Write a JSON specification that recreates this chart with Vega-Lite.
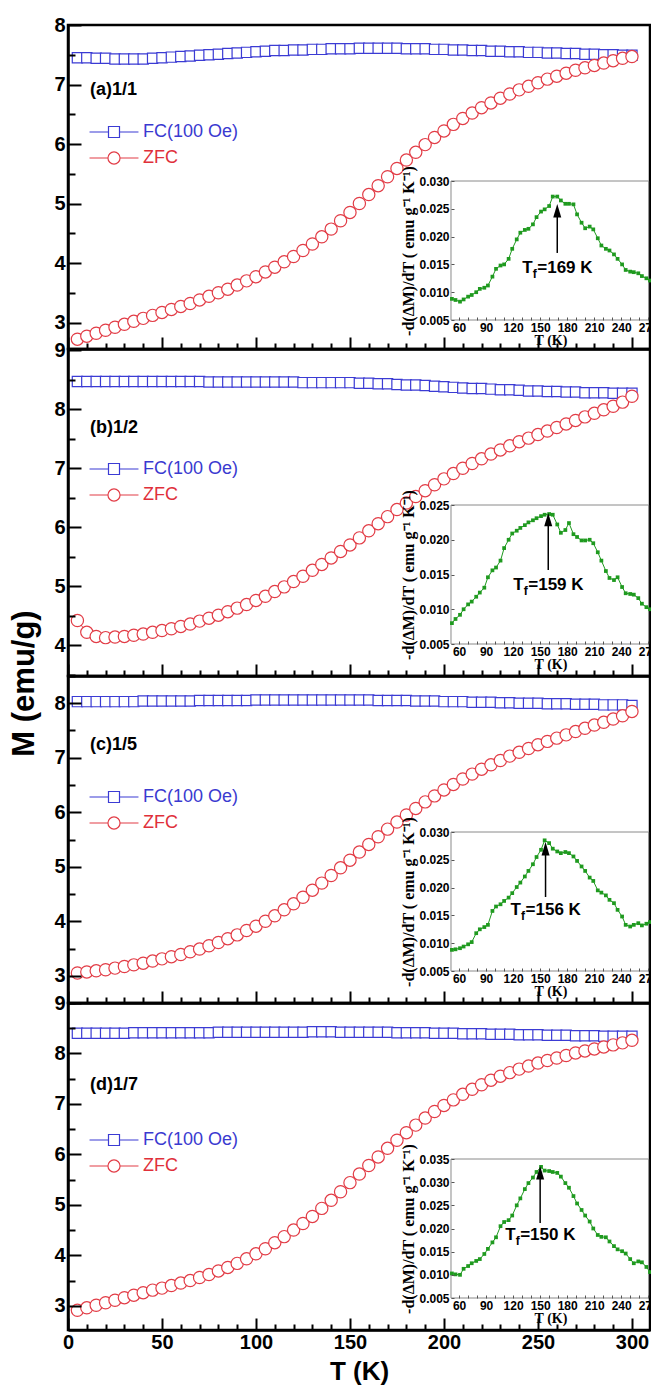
{
"$schema": "https://vega.github.io/schema/vega-lite/v6.json",
"padding": {"left": 6, "top": 13, "right": 0, "bottom": 0},
"background": "white",
"spacing": 0,
"bounds": "flush",
"resolve": {"scale": {"color": "independent"}, "legend": {"color": "independent"}},
"config": {"view": {"stroke": "black", "strokeWidth": 2.5}, "font": "Liberation Sans", "axis": {"grid": false}},
"datasets": {
"mainA": [
{"T":5,"FC(100 Oe)":7.45,"ZFC":2.72},{"T":10,"FC(100 Oe)":7.45,"ZFC":2.77},{"T":15,"FC(100 Oe)":7.44,"ZFC":2.82},{"T":20,"FC(100 Oe)":7.44,"ZFC":2.87},{"T":25,"FC(100 Oe)":7.43,"ZFC":2.92},{"T":30,"FC(100 Oe)":7.43,"ZFC":2.97},{"T":35,"FC(100 Oe)":7.43,"ZFC":3.02},{"T":40,"FC(100 Oe)":7.43,"ZFC":3.07},{"T":45,"FC(100 Oe)":7.44,"ZFC":3.12},{"T":50,"FC(100 Oe)":7.45,"ZFC":3.17},
{"T":55,"FC(100 Oe)":7.46,"ZFC":3.22},{"T":60,"FC(100 Oe)":7.47,"ZFC":3.27},{"T":65,"FC(100 Oe)":7.48,"ZFC":3.32},{"T":70,"FC(100 Oe)":7.49,"ZFC":3.38},{"T":75,"FC(100 Oe)":7.50,"ZFC":3.44},{"T":80,"FC(100 Oe)":7.51,"ZFC":3.50},{"T":85,"FC(100 Oe)":7.52,"ZFC":3.56},{"T":90,"FC(100 Oe)":7.53,"ZFC":3.63},{"T":95,"FC(100 Oe)":7.54,"ZFC":3.70},{"T":100,"FC(100 Oe)":7.55,"ZFC":3.77},
{"T":105,"FC(100 Oe)":7.56,"ZFC":3.85},{"T":110,"FC(100 Oe)":7.57,"ZFC":3.93},{"T":115,"FC(100 Oe)":7.57,"ZFC":4.02},{"T":120,"FC(100 Oe)":7.58,"ZFC":4.11},{"T":125,"FC(100 Oe)":7.58,"ZFC":4.21},{"T":130,"FC(100 Oe)":7.59,"ZFC":4.32},{"T":135,"FC(100 Oe)":7.59,"ZFC":4.44},{"T":140,"FC(100 Oe)":7.60,"ZFC":4.57},{"T":145,"FC(100 Oe)":7.60,"ZFC":4.71},{"T":150,"FC(100 Oe)":7.60,"ZFC":4.85},
{"T":155,"FC(100 Oe)":7.61,"ZFC":5.00},{"T":160,"FC(100 Oe)":7.61,"ZFC":5.15},{"T":165,"FC(100 Oe)":7.61,"ZFC":5.30},{"T":170,"FC(100 Oe)":7.61,"ZFC":5.45},{"T":175,"FC(100 Oe)":7.61,"ZFC":5.59},{"T":180,"FC(100 Oe)":7.60,"ZFC":5.73},{"T":185,"FC(100 Oe)":7.60,"ZFC":5.86},{"T":190,"FC(100 Oe)":7.60,"ZFC":5.99},{"T":195,"FC(100 Oe)":7.59,"ZFC":6.11},{"T":200,"FC(100 Oe)":7.59,"ZFC":6.22},
{"T":205,"FC(100 Oe)":7.58,"ZFC":6.33},{"T":210,"FC(100 Oe)":7.58,"ZFC":6.43},{"T":215,"FC(100 Oe)":7.57,"ZFC":6.52},{"T":220,"FC(100 Oe)":7.57,"ZFC":6.61},{"T":225,"FC(100 Oe)":7.56,"ZFC":6.69},{"T":230,"FC(100 Oe)":7.56,"ZFC":6.77},{"T":235,"FC(100 Oe)":7.55,"ZFC":6.84},{"T":240,"FC(100 Oe)":7.55,"ZFC":6.91},{"T":245,"FC(100 Oe)":7.54,"ZFC":6.97},{"T":250,"FC(100 Oe)":7.54,"ZFC":7.03},
{"T":255,"FC(100 Oe)":7.53,"ZFC":7.09},{"T":260,"FC(100 Oe)":7.53,"ZFC":7.14},{"T":265,"FC(100 Oe)":7.52,"ZFC":7.19},{"T":270,"FC(100 Oe)":7.52,"ZFC":7.24},{"T":275,"FC(100 Oe)":7.51,"ZFC":7.28},{"T":280,"FC(100 Oe)":7.51,"ZFC":7.32},{"T":285,"FC(100 Oe)":7.50,"ZFC":7.36},{"T":290,"FC(100 Oe)":7.50,"ZFC":7.40},{"T":295,"FC(100 Oe)":7.49,"ZFC":7.44},{"T":300,"FC(100 Oe)":7.49,"ZFC":7.47}
],
"mainB": [
{"T":5,"FC(100 Oe)":8.47,"ZFC":4.42},{"T":10,"FC(100 Oe)":8.47,"ZFC":4.22},{"T":15,"FC(100 Oe)":8.47,"ZFC":4.15},{"T":20,"FC(100 Oe)":8.47,"ZFC":4.13},{"T":25,"FC(100 Oe)":8.47,"ZFC":4.14},{"T":30,"FC(100 Oe)":8.47,"ZFC":4.15},{"T":35,"FC(100 Oe)":8.47,"ZFC":4.17},{"T":40,"FC(100 Oe)":8.47,"ZFC":4.19},{"T":45,"FC(100 Oe)":8.47,"ZFC":4.22},{"T":50,"FC(100 Oe)":8.47,"ZFC":4.25},
{"T":55,"FC(100 Oe)":8.47,"ZFC":4.28},{"T":60,"FC(100 Oe)":8.47,"ZFC":4.32},{"T":65,"FC(100 Oe)":8.47,"ZFC":4.36},{"T":70,"FC(100 Oe)":8.47,"ZFC":4.41},{"T":75,"FC(100 Oe)":8.46,"ZFC":4.46},{"T":80,"FC(100 Oe)":8.46,"ZFC":4.51},{"T":85,"FC(100 Oe)":8.46,"ZFC":4.57},{"T":90,"FC(100 Oe)":8.46,"ZFC":4.63},{"T":95,"FC(100 Oe)":8.46,"ZFC":4.69},{"T":100,"FC(100 Oe)":8.46,"ZFC":4.76},
{"T":105,"FC(100 Oe)":8.46,"ZFC":4.83},{"T":110,"FC(100 Oe)":8.46,"ZFC":4.91},{"T":115,"FC(100 Oe)":8.46,"ZFC":4.99},{"T":120,"FC(100 Oe)":8.46,"ZFC":5.08},{"T":125,"FC(100 Oe)":8.45,"ZFC":5.17},{"T":130,"FC(100 Oe)":8.45,"ZFC":5.27},{"T":135,"FC(100 Oe)":8.45,"ZFC":5.37},{"T":140,"FC(100 Oe)":8.45,"ZFC":5.48},{"T":145,"FC(100 Oe)":8.45,"ZFC":5.59},{"T":150,"FC(100 Oe)":8.45,"ZFC":5.70},
{"T":155,"FC(100 Oe)":8.44,"ZFC":5.82},{"T":160,"FC(100 Oe)":8.44,"ZFC":5.94},{"T":165,"FC(100 Oe)":8.43,"ZFC":6.06},{"T":170,"FC(100 Oe)":8.43,"ZFC":6.18},{"T":175,"FC(100 Oe)":8.42,"ZFC":6.30},{"T":180,"FC(100 Oe)":8.41,"ZFC":6.41},{"T":185,"FC(100 Oe)":8.41,"ZFC":6.52},{"T":190,"FC(100 Oe)":8.40,"ZFC":6.62},{"T":195,"FC(100 Oe)":8.39,"ZFC":6.72},{"T":200,"FC(100 Oe)":8.38,"ZFC":6.82},
{"T":205,"FC(100 Oe)":8.37,"ZFC":6.91},{"T":210,"FC(100 Oe)":8.36,"ZFC":7.00},{"T":215,"FC(100 Oe)":8.35,"ZFC":7.08},{"T":220,"FC(100 Oe)":8.35,"ZFC":7.16},{"T":225,"FC(100 Oe)":8.34,"ZFC":7.24},{"T":230,"FC(100 Oe)":8.33,"ZFC":7.31},{"T":235,"FC(100 Oe)":8.33,"ZFC":7.38},{"T":240,"FC(100 Oe)":8.32,"ZFC":7.45},{"T":245,"FC(100 Oe)":8.31,"ZFC":7.51},{"T":250,"FC(100 Oe)":8.31,"ZFC":7.57},
{"T":255,"FC(100 Oe)":8.30,"ZFC":7.63},{"T":260,"FC(100 Oe)":8.30,"ZFC":7.69},{"T":265,"FC(100 Oe)":8.29,"ZFC":7.75},{"T":270,"FC(100 Oe)":8.29,"ZFC":7.81},{"T":275,"FC(100 Oe)":8.28,"ZFC":7.87},{"T":280,"FC(100 Oe)":8.28,"ZFC":7.93},{"T":285,"FC(100 Oe)":8.28,"ZFC":7.99},{"T":290,"FC(100 Oe)":8.27,"ZFC":8.05},{"T":295,"FC(100 Oe)":8.27,"ZFC":8.12},{"T":300,"FC(100 Oe)":8.27,"ZFC":8.22}
],
"mainC": [
{"T":5,"FC(100 Oe)":8.03,"ZFC":3.05},{"T":10,"FC(100 Oe)":8.03,"ZFC":3.07},{"T":15,"FC(100 Oe)":8.03,"ZFC":3.09},{"T":20,"FC(100 Oe)":8.03,"ZFC":3.11},{"T":25,"FC(100 Oe)":8.03,"ZFC":3.14},{"T":30,"FC(100 Oe)":8.03,"ZFC":3.17},{"T":35,"FC(100 Oe)":8.03,"ZFC":3.20},{"T":40,"FC(100 Oe)":8.04,"ZFC":3.23},{"T":45,"FC(100 Oe)":8.04,"ZFC":3.27},{"T":50,"FC(100 Oe)":8.04,"ZFC":3.31},
{"T":55,"FC(100 Oe)":8.04,"ZFC":3.35},{"T":60,"FC(100 Oe)":8.04,"ZFC":3.39},{"T":65,"FC(100 Oe)":8.04,"ZFC":3.44},{"T":70,"FC(100 Oe)":8.05,"ZFC":3.49},{"T":75,"FC(100 Oe)":8.05,"ZFC":3.55},{"T":80,"FC(100 Oe)":8.05,"ZFC":3.61},{"T":85,"FC(100 Oe)":8.05,"ZFC":3.68},{"T":90,"FC(100 Oe)":8.05,"ZFC":3.75},{"T":95,"FC(100 Oe)":8.05,"ZFC":3.83},{"T":100,"FC(100 Oe)":8.06,"ZFC":3.91},
{"T":105,"FC(100 Oe)":8.06,"ZFC":4.00},{"T":110,"FC(100 Oe)":8.06,"ZFC":4.10},{"T":115,"FC(100 Oe)":8.06,"ZFC":4.21},{"T":120,"FC(100 Oe)":8.06,"ZFC":4.32},{"T":125,"FC(100 Oe)":8.06,"ZFC":4.44},{"T":130,"FC(100 Oe)":8.06,"ZFC":4.57},{"T":135,"FC(100 Oe)":8.06,"ZFC":4.70},{"T":140,"FC(100 Oe)":8.06,"ZFC":4.84},{"T":145,"FC(100 Oe)":8.06,"ZFC":4.98},{"T":150,"FC(100 Oe)":8.06,"ZFC":5.12},
{"T":155,"FC(100 Oe)":8.06,"ZFC":5.27},{"T":160,"FC(100 Oe)":8.06,"ZFC":5.41},{"T":165,"FC(100 Oe)":8.05,"ZFC":5.55},{"T":170,"FC(100 Oe)":8.05,"ZFC":5.69},{"T":175,"FC(100 Oe)":8.05,"ZFC":5.82},{"T":180,"FC(100 Oe)":8.05,"ZFC":5.95},{"T":185,"FC(100 Oe)":8.04,"ZFC":6.07},{"T":190,"FC(100 Oe)":8.04,"ZFC":6.19},{"T":195,"FC(100 Oe)":8.04,"ZFC":6.30},{"T":200,"FC(100 Oe)":8.03,"ZFC":6.41},
{"T":205,"FC(100 Oe)":8.03,"ZFC":6.51},{"T":210,"FC(100 Oe)":8.03,"ZFC":6.61},{"T":215,"FC(100 Oe)":8.02,"ZFC":6.70},{"T":220,"FC(100 Oe)":8.02,"ZFC":6.79},{"T":225,"FC(100 Oe)":8.02,"ZFC":6.87},{"T":230,"FC(100 Oe)":8.01,"ZFC":6.95},{"T":235,"FC(100 Oe)":8.01,"ZFC":7.03},{"T":240,"FC(100 Oe)":8.00,"ZFC":7.10},{"T":245,"FC(100 Oe)":8.00,"ZFC":7.17},{"T":250,"FC(100 Oe)":8.00,"ZFC":7.24},
{"T":255,"FC(100 Oe)":7.99,"ZFC":7.30},{"T":260,"FC(100 Oe)":7.99,"ZFC":7.36},{"T":265,"FC(100 Oe)":7.99,"ZFC":7.42},{"T":270,"FC(100 Oe)":7.98,"ZFC":7.48},{"T":275,"FC(100 Oe)":7.98,"ZFC":7.54},{"T":280,"FC(100 Oe)":7.98,"ZFC":7.60},{"T":285,"FC(100 Oe)":7.97,"ZFC":7.65},{"T":290,"FC(100 Oe)":7.97,"ZFC":7.71},{"T":295,"FC(100 Oe)":7.97,"ZFC":7.77},{"T":300,"FC(100 Oe)":7.96,"ZFC":7.85}
],
"mainD": [
{"T":5,"FC(100 Oe)":8.40,"ZFC":2.91},{"T":10,"FC(100 Oe)":8.40,"ZFC":2.96},{"T":15,"FC(100 Oe)":8.40,"ZFC":3.01},{"T":20,"FC(100 Oe)":8.40,"ZFC":3.06},{"T":25,"FC(100 Oe)":8.40,"ZFC":3.11},{"T":30,"FC(100 Oe)":8.40,"ZFC":3.16},{"T":35,"FC(100 Oe)":8.41,"ZFC":3.21},{"T":40,"FC(100 Oe)":8.41,"ZFC":3.26},{"T":45,"FC(100 Oe)":8.41,"ZFC":3.31},{"T":50,"FC(100 Oe)":8.41,"ZFC":3.35},
{"T":55,"FC(100 Oe)":8.41,"ZFC":3.40},{"T":60,"FC(100 Oe)":8.41,"ZFC":3.45},{"T":65,"FC(100 Oe)":8.41,"ZFC":3.50},{"T":70,"FC(100 Oe)":8.41,"ZFC":3.56},{"T":75,"FC(100 Oe)":8.41,"ZFC":3.62},{"T":80,"FC(100 Oe)":8.42,"ZFC":3.69},{"T":85,"FC(100 Oe)":8.42,"ZFC":3.76},{"T":90,"FC(100 Oe)":8.42,"ZFC":3.84},{"T":95,"FC(100 Oe)":8.42,"ZFC":3.93},{"T":100,"FC(100 Oe)":8.42,"ZFC":4.03},
{"T":105,"FC(100 Oe)":8.42,"ZFC":4.13},{"T":110,"FC(100 Oe)":8.42,"ZFC":4.25},{"T":115,"FC(100 Oe)":8.42,"ZFC":4.37},{"T":120,"FC(100 Oe)":8.42,"ZFC":4.50},{"T":125,"FC(100 Oe)":8.42,"ZFC":4.63},{"T":130,"FC(100 Oe)":8.43,"ZFC":4.77},{"T":135,"FC(100 Oe)":8.43,"ZFC":4.93},{"T":140,"FC(100 Oe)":8.43,"ZFC":5.09},{"T":145,"FC(100 Oe)":8.42,"ZFC":5.26},{"T":150,"FC(100 Oe)":8.42,"ZFC":5.44},
{"T":155,"FC(100 Oe)":8.42,"ZFC":5.61},{"T":160,"FC(100 Oe)":8.42,"ZFC":5.78},{"T":165,"FC(100 Oe)":8.42,"ZFC":5.95},{"T":170,"FC(100 Oe)":8.42,"ZFC":6.12},{"T":175,"FC(100 Oe)":8.41,"ZFC":6.28},{"T":180,"FC(100 Oe)":8.41,"ZFC":6.43},{"T":185,"FC(100 Oe)":8.41,"ZFC":6.58},{"T":190,"FC(100 Oe)":8.41,"ZFC":6.72},{"T":195,"FC(100 Oe)":8.40,"ZFC":6.85},{"T":200,"FC(100 Oe)":8.40,"ZFC":6.97},
{"T":205,"FC(100 Oe)":8.40,"ZFC":7.08},{"T":210,"FC(100 Oe)":8.39,"ZFC":7.19},{"T":215,"FC(100 Oe)":8.39,"ZFC":7.29},{"T":220,"FC(100 Oe)":8.39,"ZFC":7.38},{"T":225,"FC(100 Oe)":8.38,"ZFC":7.47},{"T":230,"FC(100 Oe)":8.38,"ZFC":7.55},{"T":235,"FC(100 Oe)":8.38,"ZFC":7.62},{"T":240,"FC(100 Oe)":8.37,"ZFC":7.69},{"T":245,"FC(100 Oe)":8.37,"ZFC":7.75},{"T":250,"FC(100 Oe)":8.37,"ZFC":7.81},
{"T":255,"FC(100 Oe)":8.36,"ZFC":7.86},{"T":260,"FC(100 Oe)":8.36,"ZFC":7.91},{"T":265,"FC(100 Oe)":8.36,"ZFC":7.96},{"T":270,"FC(100 Oe)":8.35,"ZFC":8.01},{"T":275,"FC(100 Oe)":8.35,"ZFC":8.05},{"T":280,"FC(100 Oe)":8.35,"ZFC":8.09},{"T":285,"FC(100 Oe)":8.34,"ZFC":8.13},{"T":290,"FC(100 Oe)":8.34,"ZFC":8.17},{"T":295,"FC(100 Oe)":8.34,"ZFC":8.21},{"T":300,"FC(100 Oe)":8.34,"ZFC":8.26}
],
"inset": [
{"T":52,"a":0.0088,"b":0.0080,"c":0.0088,"d":0.0103},{"T":56,"a":0.0086,"b":0.0086,"c":0.0089,"d":0.0101},{"T":61,"a":0.0083,"b":0.0092,"c":0.0091,"d":0.0100},{"T":65,"a":0.0087,"b":0.0100,"c":0.0094,"d":0.0113},{"T":70,"a":0.0092,"b":0.0107,"c":0.0098,"d":0.0119},
{"T":74,"a":0.0095,"b":0.0111,"c":0.0102,"d":0.0125},{"T":79,"a":0.0100,"b":0.0118,"c":0.0118,"d":0.0130},{"T":83,"a":0.0106,"b":0.0124,"c":0.0125,"d":0.0134},{"T":88,"a":0.0108,"b":0.0131,"c":0.0129,"d":0.0145},{"T":92,"a":0.0112,"b":0.0146,"c":0.0133,"d":0.0156},
{"T":97,"a":0.0128,"b":0.0156,"c":0.0158,"d":0.0170},{"T":101,"a":0.0142,"b":0.0160,"c":0.0166,"d":0.0181},{"T":106,"a":0.0148,"b":0.0170,"c":0.0170,"d":0.0205},{"T":110,"a":0.0150,"b":0.0188,"c":0.0176,"d":0.0214},{"T":115,"a":0.0160,"b":0.0200,"c":0.0182,"d":0.0218},
{"T":119,"a":0.0178,"b":0.0209,"c":0.0190,"d":0.0228},{"T":124,"a":0.0195,"b":0.0213,"c":0.0201,"d":0.0250},{"T":128,"a":0.0207,"b":0.0217,"c":0.0209,"d":0.0265},{"T":133,"a":0.0212,"b":0.0221,"c":0.0220,"d":0.0285},{"T":137,"a":0.0214,"b":0.0225,"c":0.0230,"d":0.0298},
{"T":142,"a":0.0222,"b":0.0228,"c":0.0242,"d":0.0310},{"T":146,"a":0.0235,"b":0.0231,"c":0.0255,"d":0.0322},{"T":151,"a":0.0245,"b":0.0234,"c":0.0268,"d":0.0333},{"T":155,"a":0.0249,"b":0.0236,"c":0.0285,"d":0.0325},{"T":160,"a":0.0255,"b":0.0237,"c":0.0280,"d":0.0324},
{"T":164,"a":0.0272,"b":0.0236,"c":0.0270,"d":0.0322},{"T":169,"a":0.0272,"b":0.0222,"c":0.0265,"d":0.0320},{"T":173,"a":0.0265,"b":0.0210,"c":0.0262,"d":0.0312},{"T":178,"a":0.0259,"b":0.0214,"c":0.0264,"d":0.0298},{"T":182,"a":0.0259,"b":0.0224,"c":0.0262,"d":0.0288},
{"T":187,"a":0.0258,"b":0.0208,"c":0.0256,"d":0.0270},{"T":191,"a":0.0240,"b":0.0204,"c":0.0248,"d":0.0254},{"T":196,"a":0.0225,"b":0.0199,"c":0.0238,"d":0.0240},{"T":200,"a":0.0215,"b":0.0199,"c":0.0230,"d":0.0228},{"T":205,"a":0.0218,"b":0.0200,"c":0.0218,"d":0.0215},
{"T":209,"a":0.0213,"b":0.0195,"c":0.0212,"d":0.0200},{"T":214,"a":0.0197,"b":0.0182,"c":0.0195,"d":0.0186},{"T":218,"a":0.0184,"b":0.0170,"c":0.0191,"d":0.0182},{"T":223,"a":0.0178,"b":0.0155,"c":0.0186,"d":0.0181},{"T":227,"a":0.0175,"b":0.0145,"c":0.0178,"d":0.0172},
{"T":232,"a":0.0168,"b":0.0142,"c":0.0172,"d":0.0162},{"T":236,"a":0.0160,"b":0.0146,"c":0.0160,"d":0.0155},{"T":241,"a":0.0150,"b":0.0132,"c":0.0148,"d":0.0151},{"T":245,"a":0.0140,"b":0.0123,"c":0.0133,"d":0.0146},{"T":250,"a":0.0137,"b":0.0122,"c":0.0130,"d":0.0134},
{"T":254,"a":0.0136,"b":0.0121,"c":0.0133,"d":0.0125},{"T":259,"a":0.0134,"b":0.0116,"c":0.0136,"d":0.0129},{"T":263,"a":0.0129,"b":0.0108,"c":0.0132,"d":0.0127},{"T":268,"a":0.0125,"b":0.0103,"c":0.0135,"d":0.0117},{"T":272,"a":0.0121,"b":0.0100,"c":0.0138,"d":0.0106}
],
"annA": [{"Tf": 169, "label": "=169 K"}],
"annB": [{"Tf": 159, "label": "=159 K"}],
"annC": [{"Tf": 156, "label": "=156 K"}],
"annD": [{"Tf": 150, "label": "=150 K"}]
},
"vconcat": [
{
"width": 582, "height": 324,
"resolve": {"scale": {"x": "independent", "y": "independent"}},
"layer": [
{"data": {"name": "mainA"}, "transform": [{"fold": ["FC(100 Oe)", "ZFC"], "as": ["series", "M"]}],
 "mark": {"type": "line", "strokeWidth": 1},
 "encoding": {
  "x": {"field": "T", "type": "quantitative", "scale": {"domain": [0, 309.6], "nice": false, "zero": false},
   "axis": {"orient": "bottom", "values": [0,10,20,30,40,50,60,70,80,90,100,110,120,130,140,150,160,170,180,190,200,210,220,230,240,250,260,270,280,290,300], "labels": false, "title": null, "grid": false, "domainColor": "black", "domainWidth": 2.5, "tickColor": "black", "tickWidth": 2, "tickSize": {"condition": {"test": "datum.value % 50 === 0", "value": -12}, "value": -6}, "zindex": 1}},
  "y": {"field": "M", "type": "quantitative", "scale": {"domain": [2.555, 8], "nice": false, "zero": false},
   "axis": {"orient": "left", "values": [3,3.5,4,4.5,5,5.5,6,6.5,7,7.5,8], "format": ".0f", "labelExpr": "datum.value % 1 === 0 ? datum.label : ''", "labelFont": "Liberation Sans", "labelFontSize": 20, "labelFontWeight": "bold", "labelColor": "black", "labelPadding": 16, "labelFlush": false, "labelOverlap": false, "title": null, "grid": false, "domainColor": "black", "domainWidth": 2.5, "tickColor": "black", "tickWidth": 2, "tickSize": {"condition": {"test": "datum.value % 1 === 0", "value": -13}, "value": -7}, "zindex": 1}},
  "color": {"field": "series", "type": "nominal", "scale": {"domain": ["FC(100 Oe)", "ZFC"], "range": ["#3b3bd4", "#e23c46"]}}
 }},
{"data": {"name": "mainA"}, "transform": [{"fold": ["FC(100 Oe)", "ZFC"], "as": ["series", "M"]}, {"filter": "datum.series === 'FC(100 Oe)'"}],
 "mark": {"type": "point", "shape": "square", "size": 105, "filled": false, "fill": "white", "opacity": 1, "strokeWidth": 1.2},
 "encoding": {"x": {"field": "T", "type": "quantitative", "scale": {"domain": [0, 309.6], "nice": false, "zero": false}, "axis": null}, "y": {"field": "M", "type": "quantitative", "scale": {"domain": [2.555, 8], "nice": false, "zero": false}, "axis": null}, "color": {"field": "series", "type": "nominal"}}},
{"data": {"name": "mainA"}, "transform": [{"fold": ["FC(100 Oe)", "ZFC"], "as": ["series", "M"]}, {"filter": "datum.series === 'ZFC'"}],
 "mark": {"type": "point", "shape": "circle", "size": 150, "filled": false, "fill": "white", "opacity": 1, "strokeWidth": 1.2},
 "encoding": {"x": {"field": "T", "type": "quantitative", "scale": {"domain": [0, 309.6], "nice": false, "zero": false}, "axis": null}, "y": {"field": "M", "type": "quantitative", "scale": {"domain": [2.555, 8], "nice": false, "zero": false}, "axis": null},
  "color": {"field": "series", "type": "nominal", "legend": {"orient": "none", "legendX": 37, "legendY": 98, "title": null, "padding": 0, "symbolType": {"expr": "datum.value === 'ZFC' ? 'M-4.45,0H-1.1M1.1,0H4.45M-1.1,0A1.1,1.1,0,1,1,1.1,0A1.1,1.1,0,1,1,-1.1,0Z' : 'M-4.45,0H-1M1,0H4.45M-1,-1H1V1H-1Z'"}, "symbolSize": 121, "symbolStrokeWidth": 1.2, "symbolOpacity": 1, "symbolFillColor": "white", "labelFont": "Liberation Sans", "labelFontSize": 18, "labelColor": {"expr": "datum.value === 'ZFC' ? '#e0303a' : '#3a3ad0'"}, "labelOffset": 20, "rowPadding": 8}}}},
{"data": {"values": [{"label": "(a)1/1"}]},
 "mark": {"type": "text", "align": "left", "baseline": "middle", "font": "Liberation Sans", "fontSize": 18, "fontWeight": "bold", "color": "black"},
 "encoding": {"x": {"datum": 11.7, "scale": {"domain": [0, 309.6], "nice": false, "zero": false}, "axis": null}, "y": {"datum": 6.91, "scale": {"domain": [2.555, 8], "nice": false, "zero": false}, "axis": null}, "text": {"field": "label"}}},
{"data": {"values": [{}]},
 "mark": {"type": "rect", "fill": "white", "stroke": "#8a8a8a", "strokeWidth": 1},
 "encoding": {"x": {"datum": 51, "scale": {"domain": [51, 272], "range": [383, 582], "nice": false, "zero": false}, "axis": null}, "x2": {"datum": 270.5}, "y": {"datum": 0.005, "scale": {"domain": [0.005, 0.030], "range": [295, 156], "nice": false, "zero": false}, "axis": null}, "y2": {"datum": 0.030}}},
{"data": {"name": "inset"},
 "mark": {"type": "line", "color": "#1f9a1f", "strokeWidth": 1},
 "encoding": {
  "x": {"field": "T", "type": "quantitative", "scale": {"domain": [51, 272], "range": [383, 582], "nice": false, "zero": false},
   "axis": {"orient": "bottom", "offset": -29, "values": [60,70,80,90,100,110,120,130,140,150,160,170,180,190,200,210,220,230,240,250,260,270], "labelExpr": "datum.value % 30 === 0 ? datum.label : ''", "domain": false, "tickSize": -3, "tickColor": "#555", "tickWidth": 1, "labelFont": "Liberation Sans", "labelFontSize": 12, "labelFontWeight": "bold", "labelColor": "black", "labelPadding": 5, "labelFlush": false, "labelOverlap": false, "title": "T (K)", "titleFont": "Liberation Serif", "titleFontSize": 14, "titleFontWeight": "bold", "titleColor": "black", "titlePadding": 0, "grid": false, "zindex": 1}},
  "y": {"field": "a", "type": "quantitative", "scale": {"domain": [0.005, 0.030], "range": [295, 156], "nice": false, "zero": false},
   "axis": {"orient": "left", "offset": -383, "values": [0.005,0.01,0.015,0.02,0.025,0.03], "format": ".3f", "domain": false, "tickSize": -3, "tickColor": "#555", "tickWidth": 1, "labelFont": "Liberation Sans", "labelFontSize": 12, "labelFontWeight": "bold", "labelColor": "black", "labelPadding": 5, "labelFlush": false, "labelOverlap": false, "title": "-d(ΔM)/dT ( emu g⁻¹ K⁻¹)", "titleFont": "Liberation Serif", "titleFontSize": 16, "titleFontWeight": "bold", "titleColor": "black", "titlePadding": 2, "grid": false, "zindex": 1}}
 }},
{"data": {"name": "inset"},
 "mark": {"type": "point", "filled": true, "shape": "square", "size": 14, "color": "#1f9a1f", "opacity": 1},
 "encoding": {"x": {"field": "T", "type": "quantitative", "scale": {"domain": [51, 272], "range": [383, 582], "nice": false, "zero": false}, "axis": null}, "y": {"field": "a", "type": "quantitative", "scale": {"domain": [0.005, 0.030], "range": [295, 156], "nice": false, "zero": false}, "axis": null}}},
{"data": {"name": "annA"}, "mark": {"type": "rule", "color": "black", "strokeWidth": 1.5},
 "encoding": {"x": {"field": "Tf", "type": "quantitative", "scale": {"domain": [51, 272], "range": [383, 582], "nice": false, "zero": false}, "axis": null}, "y": {"datum": 0.01706, "scale": {"domain": [0.005, 0.030], "range": [295, 156], "nice": false, "zero": false}, "axis": null}, "y2": {"datum": 0.0246}}},
{"data": {"name": "annA"}, "mark": {"type": "point", "shape": "M0,-1L0.6,1L-0.6,1Z", "size": 180, "filled": true, "color": "black", "opacity": 1},
 "encoding": {"x": {"field": "Tf", "type": "quantitative", "scale": {"domain": [51, 272], "range": [383, 582], "nice": false, "zero": false}, "axis": null}, "y": {"datum": 0.02466, "scale": {"domain": [0.005, 0.030], "range": [295, 156], "nice": false, "zero": false}, "axis": null}}},
{"data": {"name": "annA"}, "mark": {"type": "text", "text": "T", "align": "left", "baseline": "middle", "dx": -35, "font": "Liberation Sans", "fontSize": 17, "fontWeight": "bold", "color": "black"},
 "encoding": {"x": {"field": "Tf", "type": "quantitative", "scale": {"domain": [51, 272], "range": [383, 582], "nice": false, "zero": false}, "axis": null}, "y": {"datum": 0.01436, "scale": {"domain": [0.005, 0.030], "range": [295, 156], "nice": false, "zero": false}, "axis": null}}},
{"data": {"name": "annA"}, "mark": {"type": "text", "text": "f", "align": "left", "baseline": "middle", "dx": -24.5, "dy": 6, "font": "Liberation Sans", "fontSize": 12, "fontWeight": "bold", "color": "black"},
 "encoding": {"x": {"field": "Tf", "type": "quantitative", "scale": {"domain": [51, 272], "range": [383, 582], "nice": false, "zero": false}, "axis": null}, "y": {"datum": 0.01436, "scale": {"domain": [0.005, 0.030], "range": [295, 156], "nice": false, "zero": false}, "axis": null}}},
{"data": {"name": "annA"}, "mark": {"type": "text", "align": "left", "baseline": "middle", "dx": -20, "font": "Liberation Sans", "fontSize": 17, "fontWeight": "bold", "color": "black"},
 "encoding": {"x": {"field": "Tf", "type": "quantitative", "scale": {"domain": [51, 272], "range": [383, 582], "nice": false, "zero": false}, "axis": null}, "y": {"datum": 0.01436, "scale": {"domain": [0.005, 0.030], "range": [295, 156], "nice": false, "zero": false}, "axis": null}, "text": {"field": "label"}}}
]
},
{
"width": 582, "height": 327,
"resolve": {"scale": {"x": "independent", "y": "independent"}},
"layer": [
{"data": {"name": "mainB"}, "transform": [{"fold": ["FC(100 Oe)", "ZFC"], "as": ["series", "M"]}],
 "mark": {"type": "line", "strokeWidth": 1},
 "encoding": {
  "x": {"field": "T", "type": "quantitative", "scale": {"domain": [0, 309.6], "nice": false, "zero": false},
   "axis": {"orient": "bottom", "values": [0,10,20,30,40,50,60,70,80,90,100,110,120,130,140,150,160,170,180,190,200,210,220,230,240,250,260,270,280,290,300], "labels": false, "title": null, "grid": false, "domainColor": "black", "domainWidth": 2.5, "tickColor": "black", "tickWidth": 2, "tickSize": {"condition": {"test": "datum.value % 50 === 0", "value": -12}, "value": -6}, "zindex": 1}},
  "y": {"field": "M", "type": "quantitative", "scale": {"domain": [3.48, 9.02], "nice": false, "zero": false},
   "axis": {"orient": "left", "values": [3.5,4,4.5,5,5.5,6,6.5,7,7.5,8,8.5,9], "format": ".0f", "labelExpr": "datum.value % 1 === 0 ? datum.label : ''", "labelFont": "Liberation Sans", "labelFontSize": 20, "labelFontWeight": "bold", "labelColor": "black", "labelPadding": 16, "labelFlush": false, "labelOverlap": false, "title": "M (emu/g)", "titleFont": "Liberation Sans", "titleFontSize": 31, "titleFontWeight": "bold", "titleColor": "black", "titleX": -44, "titleY": 334, "titleBaseline": "middle", "grid": false, "domainColor": "black", "domainWidth": 2.5, "tickColor": "black", "tickWidth": 2, "tickSize": {"condition": {"test": "datum.value % 1 === 0", "value": -13}, "value": -7}, "zindex": 1}},
  "color": {"field": "series", "type": "nominal", "scale": {"domain": ["FC(100 Oe)", "ZFC"], "range": ["#3b3bd4", "#e23c46"]}}
 }},
{"data": {"name": "mainB"}, "transform": [{"fold": ["FC(100 Oe)", "ZFC"], "as": ["series", "M"]}, {"filter": "datum.series === 'FC(100 Oe)'"}],
 "mark": {"type": "point", "shape": "square", "size": 105, "filled": false, "fill": "white", "opacity": 1, "strokeWidth": 1.2},
 "encoding": {"x": {"field": "T", "type": "quantitative", "scale": {"domain": [0, 309.6], "nice": false, "zero": false}, "axis": null}, "y": {"field": "M", "type": "quantitative", "scale": {"domain": [3.48, 9.02], "nice": false, "zero": false}, "axis": null}, "color": {"field": "series", "type": "nominal"}}},
{"data": {"name": "mainB"}, "transform": [{"fold": ["FC(100 Oe)", "ZFC"], "as": ["series", "M"]}, {"filter": "datum.series === 'ZFC'"}],
 "mark": {"type": "point", "shape": "circle", "size": 150, "filled": false, "fill": "white", "opacity": 1, "strokeWidth": 1.2},
 "encoding": {"x": {"field": "T", "type": "quantitative", "scale": {"domain": [0, 309.6], "nice": false, "zero": false}, "axis": null}, "y": {"field": "M", "type": "quantitative", "scale": {"domain": [3.48, 9.02], "nice": false, "zero": false}, "axis": null},
  "color": {"field": "series", "type": "nominal", "legend": {"orient": "none", "legendX": 37, "legendY": 111, "title": null, "padding": 0, "symbolType": {"expr": "datum.value === 'ZFC' ? 'M-4.45,0H-1.1M1.1,0H4.45M-1.1,0A1.1,1.1,0,1,1,1.1,0A1.1,1.1,0,1,1,-1.1,0Z' : 'M-4.45,0H-1M1,0H4.45M-1,-1H1V1H-1Z'"}, "symbolSize": 121, "symbolStrokeWidth": 1.2, "symbolOpacity": 1, "symbolFillColor": "white", "labelFont": "Liberation Sans", "labelFontSize": 18, "labelColor": {"expr": "datum.value === 'ZFC' ? '#e0303a' : '#3a3ad0'"}, "labelOffset": 20, "rowPadding": 8}}}},
{"data": {"values": [{"label": "(b)1/2"}]},
 "mark": {"type": "text", "align": "left", "baseline": "middle", "font": "Liberation Sans", "fontSize": 18, "fontWeight": "bold", "color": "black"},
 "encoding": {"x": {"datum": 11.7, "scale": {"domain": [0, 309.6], "nice": false, "zero": false}, "axis": null}, "y": {"datum": 7.68, "scale": {"domain": [3.48, 9.02], "nice": false, "zero": false}, "axis": null}, "text": {"field": "label"}}},
{"data": {"values": [{}]},
 "mark": {"type": "rect", "fill": "white", "stroke": "#8a8a8a", "strokeWidth": 1},
 "encoding": {"x": {"datum": 51, "scale": {"domain": [51, 272], "range": [383, 582], "nice": false, "zero": false}, "axis": null}, "x2": {"datum": 270.5}, "y": {"datum": 0.005, "scale": {"domain": [0.005, 0.025], "range": [295, 156], "nice": false, "zero": false}, "axis": null}, "y2": {"datum": 0.025}}},
{"data": {"name": "inset"},
 "mark": {"type": "line", "color": "#1f9a1f", "strokeWidth": 1},
 "encoding": {
  "x": {"field": "T", "type": "quantitative", "scale": {"domain": [51, 272], "range": [383, 582], "nice": false, "zero": false},
   "axis": {"orient": "bottom", "offset": -32, "values": [60,70,80,90,100,110,120,130,140,150,160,170,180,190,200,210,220,230,240,250,260,270], "labelExpr": "datum.value % 30 === 0 ? datum.label : ''", "domain": false, "tickSize": -3, "tickColor": "#555", "tickWidth": 1, "labelFont": "Liberation Sans", "labelFontSize": 12, "labelFontWeight": "bold", "labelColor": "black", "labelPadding": 5, "labelFlush": false, "labelOverlap": false, "title": "T (K)", "titleFont": "Liberation Serif", "titleFontSize": 14, "titleFontWeight": "bold", "titleColor": "black", "titlePadding": 0, "grid": false, "zindex": 1}},
  "y": {"field": "b", "type": "quantitative", "scale": {"domain": [0.005, 0.025], "range": [295, 156], "nice": false, "zero": false},
   "axis": {"orient": "left", "offset": -383, "values": [0.005,0.01,0.015,0.02,0.025], "format": ".3f", "domain": false, "tickSize": -3, "tickColor": "#555", "tickWidth": 1, "labelFont": "Liberation Sans", "labelFontSize": 12, "labelFontWeight": "bold", "labelColor": "black", "labelPadding": 5, "labelFlush": false, "labelOverlap": false, "title": "-d(ΔM)/dT ( emu g⁻¹ K⁻¹)", "titleFont": "Liberation Serif", "titleFontSize": 16, "titleFontWeight": "bold", "titleColor": "black", "titlePadding": 2, "grid": false, "zindex": 1}}
 }},
{"data": {"name": "inset"},
 "mark": {"type": "point", "filled": true, "shape": "square", "size": 14, "color": "#1f9a1f", "opacity": 1},
 "encoding": {"x": {"field": "T", "type": "quantitative", "scale": {"domain": [51, 272], "range": [383, 582], "nice": false, "zero": false}, "axis": null}, "y": {"field": "b", "type": "quantitative", "scale": {"domain": [0.005, 0.025], "range": [295, 156], "nice": false, "zero": false}, "axis": null}}},
{"data": {"name": "annB"}, "mark": {"type": "rule", "color": "black", "strokeWidth": 1.5},
 "encoding": {"x": {"field": "Tf", "type": "quantitative", "scale": {"domain": [51, 272], "range": [383, 582], "nice": false, "zero": false}, "axis": null}, "y": {"datum": 0.01565, "scale": {"domain": [0.005, 0.025], "range": [295, 156], "nice": false, "zero": false}, "axis": null}, "y2": {"datum": 0.0229}}},
{"data": {"name": "annB"}, "mark": {"type": "point", "shape": "M0,-1L0.6,1L-0.6,1Z", "size": 180, "filled": true, "color": "black", "opacity": 1},
 "encoding": {"x": {"field": "Tf", "type": "quantitative", "scale": {"domain": [51, 272], "range": [383, 582], "nice": false, "zero": false}, "axis": null}, "y": {"datum": 0.0229, "scale": {"domain": [0.005, 0.025], "range": [295, 156], "nice": false, "zero": false}, "axis": null}}},
{"data": {"name": "annB"}, "mark": {"type": "text", "text": "T", "align": "left", "baseline": "middle", "dx": -35, "font": "Liberation Sans", "fontSize": 17, "fontWeight": "bold", "color": "black"},
 "encoding": {"x": {"field": "Tf", "type": "quantitative", "scale": {"domain": [51, 272], "range": [383, 582], "nice": false, "zero": false}, "axis": null}, "y": {"datum": 0.01349, "scale": {"domain": [0.005, 0.025], "range": [295, 156], "nice": false, "zero": false}, "axis": null}}},
{"data": {"name": "annB"}, "mark": {"type": "text", "text": "f", "align": "left", "baseline": "middle", "dx": -24.5, "dy": 6, "font": "Liberation Sans", "fontSize": 12, "fontWeight": "bold", "color": "black"},
 "encoding": {"x": {"field": "Tf", "type": "quantitative", "scale": {"domain": [51, 272], "range": [383, 582], "nice": false, "zero": false}, "axis": null}, "y": {"datum": 0.01349, "scale": {"domain": [0.005, 0.025], "range": [295, 156], "nice": false, "zero": false}, "axis": null}}},
{"data": {"name": "annB"}, "mark": {"type": "text", "align": "left", "baseline": "middle", "dx": -20, "font": "Liberation Sans", "fontSize": 17, "fontWeight": "bold", "color": "black"},
 "encoding": {"x": {"field": "Tf", "type": "quantitative", "scale": {"domain": [51, 272], "range": [383, 582], "nice": false, "zero": false}, "axis": null}, "y": {"datum": 0.01349, "scale": {"domain": [0.005, 0.025], "range": [295, 156], "nice": false, "zero": false}, "axis": null}, "text": {"field": "label"}}}
]
},
{
"width": 582, "height": 327,
"resolve": {"scale": {"x": "independent", "y": "independent"}},
"layer": [
{"data": {"name": "mainC"}, "transform": [{"fold": ["FC(100 Oe)", "ZFC"], "as": ["series", "M"]}],
 "mark": {"type": "line", "strokeWidth": 1},
 "encoding": {
  "x": {"field": "T", "type": "quantitative", "scale": {"domain": [0, 309.6], "nice": false, "zero": false},
   "axis": {"orient": "bottom", "values": [0,10,20,30,40,50,60,70,80,90,100,110,120,130,140,150,160,170,180,190,200,210,220,230,240,250,260,270,280,290,300], "labels": false, "title": null, "grid": false, "domainColor": "black", "domainWidth": 2.5, "tickColor": "black", "tickWidth": 2, "tickSize": {"condition": {"test": "datum.value % 50 === 0", "value": -12}, "value": -6}, "zindex": 1}},
  "y": {"field": "M", "type": "quantitative", "scale": {"domain": [2.5, 8.5], "nice": false, "zero": false},
   "axis": {"orient": "left", "values": [2.5,3,3.5,4,4.5,5,5.5,6,6.5,7,7.5,8,8.5], "format": ".0f", "labelExpr": "datum.value % 1 === 0 ? datum.label : ''", "labelFont": "Liberation Sans", "labelFontSize": 20, "labelFontWeight": "bold", "labelColor": "black", "labelPadding": 16, "labelFlush": false, "labelOverlap": false, "title": null, "grid": false, "domainColor": "black", "domainWidth": 2.5, "tickColor": "black", "tickWidth": 2, "tickSize": {"condition": {"test": "datum.value % 1 === 0", "value": -13}, "value": -7}, "zindex": 1}},
  "color": {"field": "series", "type": "nominal", "scale": {"domain": ["FC(100 Oe)", "ZFC"], "range": ["#3b3bd4", "#e23c46"]}}
 }},
{"data": {"name": "mainC"}, "transform": [{"fold": ["FC(100 Oe)", "ZFC"], "as": ["series", "M"]}, {"filter": "datum.series === 'FC(100 Oe)'"}],
 "mark": {"type": "point", "shape": "square", "size": 105, "filled": false, "fill": "white", "opacity": 1, "strokeWidth": 1.2},
 "encoding": {"x": {"field": "T", "type": "quantitative", "scale": {"domain": [0, 309.6], "nice": false, "zero": false}, "axis": null}, "y": {"field": "M", "type": "quantitative", "scale": {"domain": [2.5, 8.5], "nice": false, "zero": false}, "axis": null}, "color": {"field": "series", "type": "nominal"}}},
{"data": {"name": "mainC"}, "transform": [{"fold": ["FC(100 Oe)", "ZFC"], "as": ["series", "M"]}, {"filter": "datum.series === 'ZFC'"}],
 "mark": {"type": "point", "shape": "circle", "size": 150, "filled": false, "fill": "white", "opacity": 1, "strokeWidth": 1.2},
 "encoding": {"x": {"field": "T", "type": "quantitative", "scale": {"domain": [0, 309.6], "nice": false, "zero": false}, "axis": null}, "y": {"field": "M", "type": "quantitative", "scale": {"domain": [2.5, 8.5], "nice": false, "zero": false}, "axis": null},
  "color": {"field": "series", "type": "nominal", "legend": {"orient": "none", "legendX": 37, "legendY": 112, "title": null, "padding": 0, "symbolType": {"expr": "datum.value === 'ZFC' ? 'M-4.45,0H-1.1M1.1,0H4.45M-1.1,0A1.1,1.1,0,1,1,1.1,0A1.1,1.1,0,1,1,-1.1,0Z' : 'M-4.45,0H-1M1,0H4.45M-1,-1H1V1H-1Z'"}, "symbolSize": 121, "symbolStrokeWidth": 1.2, "symbolOpacity": 1, "symbolFillColor": "white", "labelFont": "Liberation Sans", "labelFontSize": 18, "labelColor": {"expr": "datum.value === 'ZFC' ? '#e0303a' : '#3a3ad0'"}, "labelOffset": 20, "rowPadding": 8}}}},
{"data": {"values": [{"label": "(c)1/5"}]},
 "mark": {"type": "text", "align": "left", "baseline": "middle", "font": "Liberation Sans", "fontSize": 18, "fontWeight": "bold", "color": "black"},
 "encoding": {"x": {"datum": 11.7, "scale": {"domain": [0, 309.6], "nice": false, "zero": false}, "axis": null}, "y": {"datum": 7.23, "scale": {"domain": [2.5, 8.5], "nice": false, "zero": false}, "axis": null}, "text": {"field": "label"}}},
{"data": {"values": [{}]},
 "mark": {"type": "rect", "fill": "white", "stroke": "#8a8a8a", "strokeWidth": 1},
 "encoding": {"x": {"datum": 51, "scale": {"domain": [51, 272], "range": [383, 582], "nice": false, "zero": false}, "axis": null}, "x2": {"datum": 270.5}, "y": {"datum": 0.005, "scale": {"domain": [0.005, 0.030], "range": [295, 156], "nice": false, "zero": false}, "axis": null}, "y2": {"datum": 0.030}}},
{"data": {"name": "inset"},
 "mark": {"type": "line", "color": "#1f9a1f", "strokeWidth": 1},
 "encoding": {
  "x": {"field": "T", "type": "quantitative", "scale": {"domain": [51, 272], "range": [383, 582], "nice": false, "zero": false},
   "axis": {"orient": "bottom", "offset": -32, "values": [60,70,80,90,100,110,120,130,140,150,160,170,180,190,200,210,220,230,240,250,260,270], "labelExpr": "datum.value % 30 === 0 ? datum.label : ''", "domain": false, "tickSize": -3, "tickColor": "#555", "tickWidth": 1, "labelFont": "Liberation Sans", "labelFontSize": 12, "labelFontWeight": "bold", "labelColor": "black", "labelPadding": 5, "labelFlush": false, "labelOverlap": false, "title": "T (K)", "titleFont": "Liberation Serif", "titleFontSize": 14, "titleFontWeight": "bold", "titleColor": "black", "titlePadding": 0, "grid": false, "zindex": 1}},
  "y": {"field": "c", "type": "quantitative", "scale": {"domain": [0.005, 0.030], "range": [295, 156], "nice": false, "zero": false},
   "axis": {"orient": "left", "offset": -383, "values": [0.005,0.01,0.015,0.02,0.025,0.03], "format": ".3f", "domain": false, "tickSize": -3, "tickColor": "#555", "tickWidth": 1, "labelFont": "Liberation Sans", "labelFontSize": 12, "labelFontWeight": "bold", "labelColor": "black", "labelPadding": 5, "labelFlush": false, "labelOverlap": false, "title": "-d(ΔM)/dT ( emu g⁻¹ K⁻¹)", "titleFont": "Liberation Serif", "titleFontSize": 16, "titleFontWeight": "bold", "titleColor": "black", "titlePadding": 2, "grid": false, "zindex": 1}}
 }},
{"data": {"name": "inset"},
 "mark": {"type": "point", "filled": true, "shape": "square", "size": 14, "color": "#1f9a1f", "opacity": 1},
 "encoding": {"x": {"field": "T", "type": "quantitative", "scale": {"domain": [51, 272], "range": [383, 582], "nice": false, "zero": false}, "axis": null}, "y": {"field": "c", "type": "quantitative", "scale": {"domain": [0.005, 0.030], "range": [295, 156], "nice": false, "zero": false}, "axis": null}}},
{"data": {"name": "annC"}, "mark": {"type": "rule", "color": "black", "strokeWidth": 1.5},
 "encoding": {"x": {"field": "Tf", "type": "quantitative", "scale": {"domain": [51, 272], "range": [383, 582], "nice": false, "zero": false}, "axis": null}, "y": {"datum": 0.01831, "scale": {"domain": [0.005, 0.030], "range": [295, 156], "nice": false, "zero": false}, "axis": null}, "y2": {"datum": 0.027}}},
{"data": {"name": "annC"}, "mark": {"type": "point", "shape": "M0,-1L0.6,1L-0.6,1Z", "size": 180, "filled": true, "color": "black", "opacity": 1},
 "encoding": {"x": {"field": "Tf", "type": "quantitative", "scale": {"domain": [51, 272], "range": [383, 582], "nice": false, "zero": false}, "axis": null}, "y": {"datum": 0.027, "scale": {"domain": [0.005, 0.030], "range": [295, 156], "nice": false, "zero": false}, "axis": null}}},
{"data": {"name": "annC"}, "mark": {"type": "text", "text": "T", "align": "left", "baseline": "middle", "dx": -35, "font": "Liberation Sans", "fontSize": 17, "fontWeight": "bold", "color": "black"},
 "encoding": {"x": {"field": "Tf", "type": "quantitative", "scale": {"domain": [51, 272], "range": [383, 582], "nice": false, "zero": false}, "axis": null}, "y": {"datum": 0.01597, "scale": {"domain": [0.005, 0.030], "range": [295, 156], "nice": false, "zero": false}, "axis": null}}},
{"data": {"name": "annC"}, "mark": {"type": "text", "text": "f", "align": "left", "baseline": "middle", "dx": -24.5, "dy": 6, "font": "Liberation Sans", "fontSize": 12, "fontWeight": "bold", "color": "black"},
 "encoding": {"x": {"field": "Tf", "type": "quantitative", "scale": {"domain": [51, 272], "range": [383, 582], "nice": false, "zero": false}, "axis": null}, "y": {"datum": 0.01597, "scale": {"domain": [0.005, 0.030], "range": [295, 156], "nice": false, "zero": false}, "axis": null}}},
{"data": {"name": "annC"}, "mark": {"type": "text", "align": "left", "baseline": "middle", "dx": -20, "font": "Liberation Sans", "fontSize": 17, "fontWeight": "bold", "color": "black"},
 "encoding": {"x": {"field": "Tf", "type": "quantitative", "scale": {"domain": [51, 272], "range": [383, 582], "nice": false, "zero": false}, "axis": null}, "y": {"datum": 0.01597, "scale": {"domain": [0.005, 0.030], "range": [295, 156], "nice": false, "zero": false}, "axis": null}, "text": {"field": "label"}}}
]
},
{
"width": 582, "height": 327,
"resolve": {"scale": {"x": "independent", "y": "independent"}},
"layer": [
{"data": {"name": "mainD"}, "transform": [{"fold": ["FC(100 Oe)", "ZFC"], "as": ["series", "M"]}],
 "mark": {"type": "line", "strokeWidth": 1},
 "encoding": {
  "x": {"field": "T", "type": "quantitative", "scale": {"domain": [0, 309.6], "nice": false, "zero": false},
   "axis": {"orient": "bottom", "values": [0,10,20,30,40,50,60,70,80,90,100,110,120,130,140,150,160,170,180,190,200,210,220,230,240,250,260,270,280,290,300], "labelExpr": "datum.value % 50 === 0 ? datum.label : ''", "labelFont": "Liberation Sans", "labelFontSize": 20, "labelFontWeight": "bold", "labelColor": "black", "labelPadding": 14, "labelFlush": false, "labelOverlap": false, "title": "T (K)", "titleFont": "Liberation Sans", "titleFontSize": 26, "titleFontWeight": "bold", "titleColor": "black", "titlePadding": 0, "grid": false, "domainColor": "black", "domainWidth": 2.5, "tickColor": "black", "tickWidth": 2, "tickSize": {"condition": {"test": "datum.value % 50 === 0", "value": -12}, "value": -6}, "zindex": 1}},
  "y": {"field": "M", "type": "quantitative", "scale": {"domain": [2.52, 9.0], "nice": false, "zero": false},
   "axis": {"orient": "left", "values": [3,3.5,4,4.5,5,5.5,6,6.5,7,7.5,8,8.5,9], "format": ".0f", "labelExpr": "datum.value % 1 === 0 ? datum.label : ''", "labelFont": "Liberation Sans", "labelFontSize": 20, "labelFontWeight": "bold", "labelColor": "black", "labelPadding": 16, "labelFlush": false, "labelOverlap": false, "title": null, "grid": false, "domainColor": "black", "domainWidth": 2.5, "tickColor": "black", "tickWidth": 2, "tickSize": {"condition": {"test": "datum.value % 1 === 0", "value": -13}, "value": -7}, "zindex": 1}},
  "color": {"field": "series", "type": "nominal", "scale": {"domain": ["FC(100 Oe)", "ZFC"], "range": ["#3b3bd4", "#e23c46"]}}
 }},
{"data": {"name": "mainD"}, "transform": [{"fold": ["FC(100 Oe)", "ZFC"], "as": ["series", "M"]}, {"filter": "datum.series === 'FC(100 Oe)'"}],
 "mark": {"type": "point", "shape": "square", "size": 105, "filled": false, "fill": "white", "opacity": 1, "strokeWidth": 1.2},
 "encoding": {"x": {"field": "T", "type": "quantitative", "scale": {"domain": [0, 309.6], "nice": false, "zero": false}, "axis": null}, "y": {"field": "M", "type": "quantitative", "scale": {"domain": [2.52, 9.0], "nice": false, "zero": false}, "axis": null}, "color": {"field": "series", "type": "nominal"}}},
{"data": {"name": "mainD"}, "transform": [{"fold": ["FC(100 Oe)", "ZFC"], "as": ["series", "M"]}, {"filter": "datum.series === 'ZFC'"}],
 "mark": {"type": "point", "shape": "circle", "size": 150, "filled": false, "fill": "white", "opacity": 1, "strokeWidth": 1.2},
 "encoding": {"x": {"field": "T", "type": "quantitative", "scale": {"domain": [0, 309.6], "nice": false, "zero": false}, "axis": null}, "y": {"field": "M", "type": "quantitative", "scale": {"domain": [2.52, 9.0], "nice": false, "zero": false}, "axis": null},
  "color": {"field": "series", "type": "nominal", "legend": {"orient": "none", "legendX": 37, "legendY": 128, "title": null, "padding": 0, "symbolType": {"expr": "datum.value === 'ZFC' ? 'M-4.45,0H-1.1M1.1,0H4.45M-1.1,0A1.1,1.1,0,1,1,1.1,0A1.1,1.1,0,1,1,-1.1,0Z' : 'M-4.45,0H-1M1,0H4.45M-1,-1H1V1H-1Z'"}, "symbolSize": 121, "symbolStrokeWidth": 1.2, "symbolOpacity": 1, "symbolFillColor": "white", "labelFont": "Liberation Sans", "labelFontSize": 18, "labelColor": {"expr": "datum.value === 'ZFC' ? '#e0303a' : '#3a3ad0'"}, "labelOffset": 20, "rowPadding": 8}}}},
{"data": {"values": [{"label": "(d)1/7"}]},
 "mark": {"type": "text", "align": "left", "baseline": "middle", "font": "Liberation Sans", "fontSize": 18, "fontWeight": "bold", "color": "black"},
 "encoding": {"x": {"datum": 11.7, "scale": {"domain": [0, 309.6], "nice": false, "zero": false}, "axis": null}, "y": {"datum": 7.38, "scale": {"domain": [2.52, 9.0], "nice": false, "zero": false}, "axis": null}, "text": {"field": "label"}}},
{"data": {"values": [{}]},
 "mark": {"type": "rect", "fill": "white", "stroke": "#8a8a8a", "strokeWidth": 1},
 "encoding": {"x": {"datum": 51, "scale": {"domain": [51, 272], "range": [383, 582], "nice": false, "zero": false}, "axis": null}, "x2": {"datum": 270.5}, "y": {"datum": 0.005, "scale": {"domain": [0.005, 0.035], "range": [295, 156], "nice": false, "zero": false}, "axis": null}, "y2": {"datum": 0.035}}},
{"data": {"name": "inset"},
 "mark": {"type": "line", "color": "#1f9a1f", "strokeWidth": 1},
 "encoding": {
  "x": {"field": "T", "type": "quantitative", "scale": {"domain": [51, 272], "range": [383, 582], "nice": false, "zero": false},
   "axis": {"orient": "bottom", "offset": -32, "values": [60,70,80,90,100,110,120,130,140,150,160,170,180,190,200,210,220,230,240,250,260,270], "labelExpr": "datum.value % 30 === 0 ? datum.label : ''", "domain": false, "tickSize": -3, "tickColor": "#555", "tickWidth": 1, "labelFont": "Liberation Sans", "labelFontSize": 12, "labelFontWeight": "bold", "labelColor": "black", "labelPadding": 5, "labelFlush": false, "labelOverlap": false, "title": "T (K)", "titleFont": "Liberation Serif", "titleFontSize": 14, "titleFontWeight": "bold", "titleColor": "black", "titlePadding": 0, "grid": false, "zindex": 1}},
  "y": {"field": "d", "type": "quantitative", "scale": {"domain": [0.005, 0.035], "range": [295, 156], "nice": false, "zero": false},
   "axis": {"orient": "left", "offset": -383, "values": [0.005,0.01,0.015,0.02,0.025,0.03,0.035], "format": ".3f", "domain": false, "tickSize": -3, "tickColor": "#555", "tickWidth": 1, "labelFont": "Liberation Sans", "labelFontSize": 12, "labelFontWeight": "bold", "labelColor": "black", "labelPadding": 5, "labelFlush": false, "labelOverlap": false, "title": "-d(ΔM)/dT ( emu g⁻¹ K⁻¹)", "titleFont": "Liberation Serif", "titleFontSize": 16, "titleFontWeight": "bold", "titleColor": "black", "titlePadding": 2, "grid": false, "zindex": 1}}
 }},
{"data": {"name": "inset"},
 "mark": {"type": "point", "filled": true, "shape": "square", "size": 14, "color": "#1f9a1f", "opacity": 1},
 "encoding": {"x": {"field": "T", "type": "quantitative", "scale": {"domain": [51, 272], "range": [383, 582], "nice": false, "zero": false}, "axis": null}, "y": {"field": "d", "type": "quantitative", "scale": {"domain": [0.005, 0.035], "range": [295, 156], "nice": false, "zero": false}, "axis": null}}},
{"data": {"name": "annD"}, "mark": {"type": "rule", "color": "black", "strokeWidth": 1.5},
 "encoding": {"x": {"field": "Tf", "type": "quantitative", "scale": {"domain": [51, 272], "range": [383, 582], "nice": false, "zero": false}, "axis": null}, "y": {"datum": 0.02118, "scale": {"domain": [0.005, 0.035], "range": [295, 156], "nice": false, "zero": false}, "axis": null}, "y2": {"datum": 0.032}}},
{"data": {"name": "annD"}, "mark": {"type": "point", "shape": "M0,-1L0.6,1L-0.6,1Z", "size": 180, "filled": true, "color": "black", "opacity": 1},
 "encoding": {"x": {"field": "Tf", "type": "quantitative", "scale": {"domain": [51, 272], "range": [383, 582], "nice": false, "zero": false}, "axis": null}, "y": {"datum": 0.03204, "scale": {"domain": [0.005, 0.035], "range": [295, 156], "nice": false, "zero": false}, "axis": null}}},
{"data": {"name": "annD"}, "mark": {"type": "text", "text": "T", "align": "left", "baseline": "middle", "dx": -35, "font": "Liberation Sans", "fontSize": 17, "fontWeight": "bold", "color": "black"},
 "encoding": {"x": {"field": "Tf", "type": "quantitative", "scale": {"domain": [51, 272], "range": [383, 582], "nice": false, "zero": false}, "axis": null}, "y": {"datum": 0.0186, "scale": {"domain": [0.005, 0.035], "range": [295, 156], "nice": false, "zero": false}, "axis": null}}},
{"data": {"name": "annD"}, "mark": {"type": "text", "text": "f", "align": "left", "baseline": "middle", "dx": -24.5, "dy": 6, "font": "Liberation Sans", "fontSize": 12, "fontWeight": "bold", "color": "black"},
 "encoding": {"x": {"field": "Tf", "type": "quantitative", "scale": {"domain": [51, 272], "range": [383, 582], "nice": false, "zero": false}, "axis": null}, "y": {"datum": 0.0186, "scale": {"domain": [0.005, 0.035], "range": [295, 156], "nice": false, "zero": false}, "axis": null}}},
{"data": {"name": "annD"}, "mark": {"type": "text", "align": "left", "baseline": "middle", "dx": -20, "font": "Liberation Sans", "fontSize": 17, "fontWeight": "bold", "color": "black"},
 "encoding": {"x": {"field": "Tf", "type": "quantitative", "scale": {"domain": [51, 272], "range": [383, 582], "nice": false, "zero": false}, "axis": null}, "y": {"datum": 0.0186, "scale": {"domain": [0.005, 0.035], "range": [295, 156], "nice": false, "zero": false}, "axis": null}, "text": {"field": "label"}}}
]
}
]
}
